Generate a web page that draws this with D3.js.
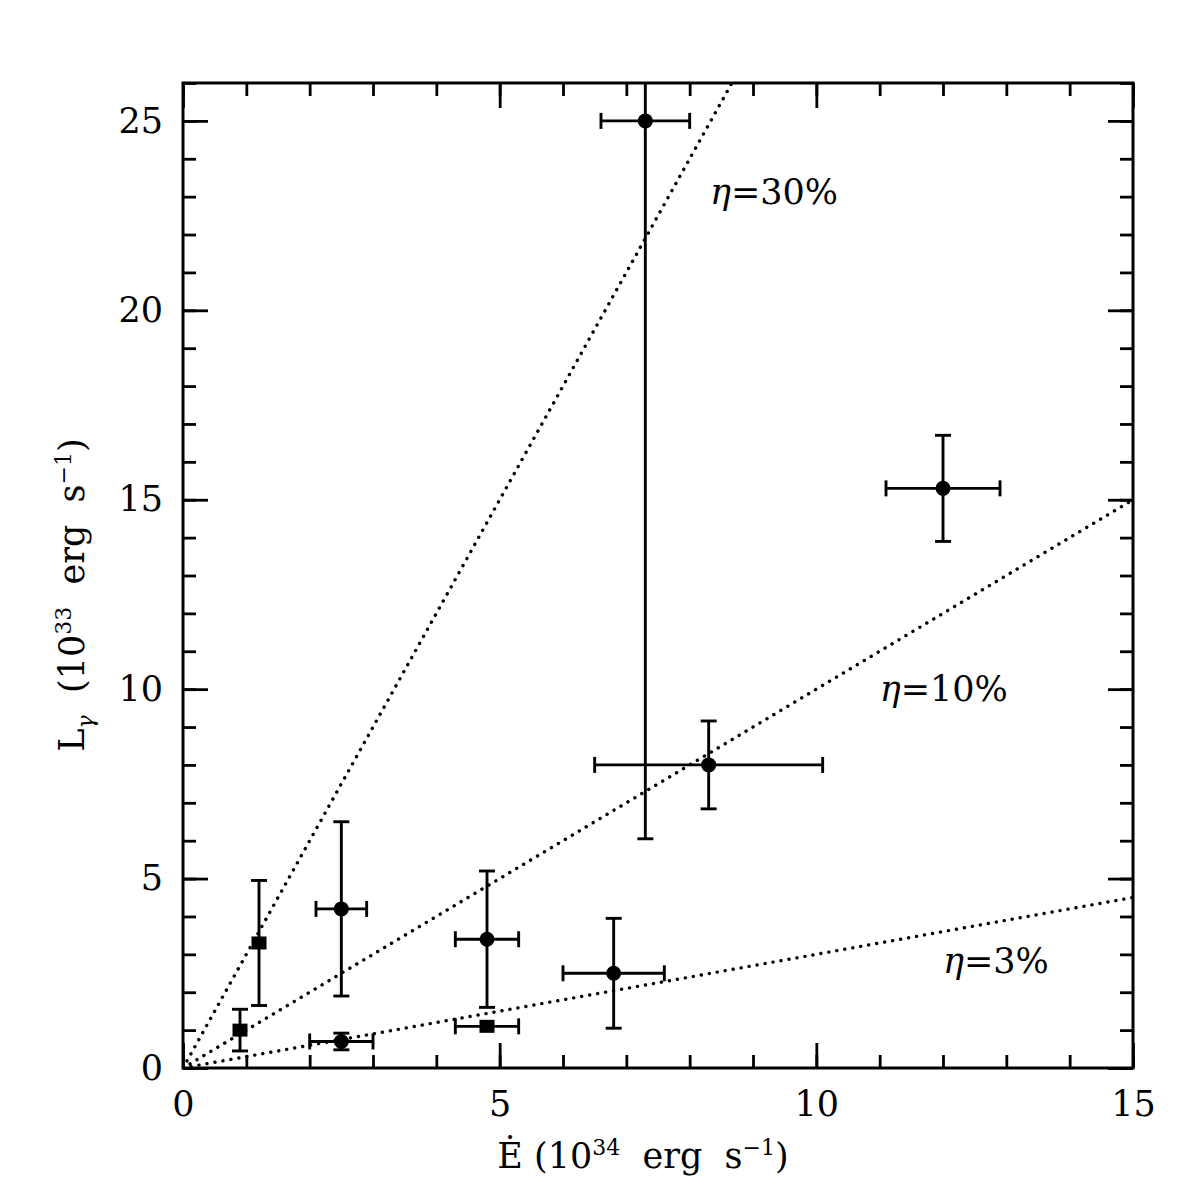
<!DOCTYPE html>
<html><head><meta charset="utf-8">
<script src="https://cdn.jsdelivr.net/npm/d3@7"></script>
<style>body{margin:0;background:#fff}svg{display:block}</style>
</head><body>
<script>
// Data: x = Edot (1e34 erg/s), y = L_gamma (1e33 erg/s)
const px   = [0.9, 1.2, 2.5, 2.5, 4.8, 4.8, 6.8, 7.3, 8.3, 12.0];
const py   = [1.0, 3.3, 0.7, 4.2, 3.4, 1.1, 2.5, 25.0, 8.0, 15.3];
const pxe  = [0, 0, 0.5, 0.4, 0.5, 0.5, 0.8, 0.7, 1.8, 0.9];
const pye  = [0.55, 1.65, 0.22, 2.3, 1.8, 0, 1.45, 18.95, 1.16, 1.4];
const pshape = ["sq","sq","c","c","c","sq","c","c","c","c"];
const effs = [0.30, 0.10, 0.03];
const effLabels = ["30%", "10%", "3%"];
const effLabelPos = [[8.32, 22.8],[11.0, 9.7],[12.0, 2.5]];
const xMajor = [0, 5, 10, 15];
const yMajor = [0, 5, 10, 15, 20, 25];

const W = 1196, H = 1196;
const m = {l:183, r:1133, t:83, b:1068};
const svg = d3.select("body").append("svg").attr("width", W).attr("height", H);
const x = d3.scaleLinear().domain([0, 15]).range([m.l, m.r]);
const y = d3.scaleLinear().domain([0, 26]).range([m.b, m.t]);
const font = "DejaVu Serif, Liberation Serif, serif";

svg.append("defs").append("clipPath").attr("id","clip")
  .append("rect").attr("x", m.l).attr("y", m.t).attr("width", m.r-m.l).attr("height", m.b-m.t);

// Axes
const xMinor = d3.range(0, 16, 1);
const yMinor = d3.range(0, 27, 1);
function axisGroup(axis, tx, ty){
  const g = svg.append("g").attr("transform", `translate(${tx},${ty})`).call(axis);
  g.select(".domain").remove();
  g.selectAll(".tick line").attr("stroke","#000").attr("stroke-width",2.8);
  return g;
}
axisGroup(d3.axisBottom(x).tickValues(xMinor).tickSize(-13).tickFormat(""), 0, m.b);
const gb = axisGroup(d3.axisBottom(x).tickValues(xMajor).tickSize(-25).tickPadding(23).tickFormat(d3.format("d")), 0, m.b);
axisGroup(d3.axisTop(x).tickValues(xMinor).tickSize(-13).tickFormat(""), 0, m.t);
axisGroup(d3.axisTop(x).tickValues(xMajor).tickSize(-25).tickFormat(""), 0, m.t);
axisGroup(d3.axisLeft(y).tickValues(yMinor).tickSize(-13).tickFormat(""), m.l, 0);
const gl = axisGroup(d3.axisLeft(y).tickValues(yMajor).tickSize(-25).tickPadding(20).tickFormat(d3.format("d")), m.l, 0);
axisGroup(d3.axisRight(y).tickValues(yMinor).tickSize(-13).tickFormat(""), m.r, 0);
axisGroup(d3.axisRight(y).tickValues(yMajor).tickSize(-25).tickFormat(""), m.r, 0);

[gb, gl].forEach(g => g.selectAll(".tick text")
  .attr("font-family", font).attr("font-size", 35).attr("fill","#000"));

svg.append("rect").attr("x", m.l).attr("y", m.t).attr("width", m.r-m.l).attr("height", m.b-m.t)
  .attr("fill","none").attr("stroke","#000").attr("stroke-width",3);

// efficiency lines
const plot = svg.append("g").attr("clip-path","url(#clip)");
effs.forEach(e => {
  plot.append("line")
    .attr("x1", x(0)).attr("y1", y(0))
    .attr("x2", x(15)).attr("y2", y(e * 10 * 15))
    .attr("stroke","#000").attr("stroke-width",3.4)
    .attr("stroke-dasharray","0.1,8").attr("stroke-linecap","round");
});

// error bars
const cap = 8;
const eb = plot.append("g").attr("stroke","#000").attr("stroke-width",2.9).attr("fill","none");
px.forEach((xv, i) => {
  const yv = py[i];
  if (pye[i] > 0) {
    eb.append("line").attr("x1", x(xv)).attr("x2", x(xv)).attr("y1", y(yv - pye[i])).attr("y2", y(yv + pye[i]));
    [yv - pye[i], yv + pye[i]].forEach(v =>
      eb.append("line").attr("x1", x(xv)-cap).attr("x2", x(xv)+cap).attr("y1", y(v)).attr("y2", y(v)));
  }
  if (pxe[i] > 0) {
    eb.append("line").attr("y1", y(yv)).attr("y2", y(yv)).attr("x1", x(xv - pxe[i])).attr("x2", x(xv + pxe[i]));
    [xv - pxe[i], xv + pxe[i]].forEach(v =>
      eb.append("line").attr("y1", y(yv)-cap).attr("y2", y(yv)+cap).attr("x1", x(v)).attr("x2", x(v)));
  }
});
// markers
px.forEach((xv, i) => {
  if (pshape[i] === "c") {
    plot.append("circle").attr("cx", x(xv)).attr("cy", y(py[i])).attr("r", 7.5).attr("fill","#000");
  } else {
    plot.append("rect").attr("x", x(xv)-7.5).attr("y", y(py[i])-6.5).attr("width", 15).attr("height", 13).attr("fill","#000");
  }
});

// efficiency labels
effLabels.forEach((lab, i) => {
  const t = svg.append("text").attr("x", x(effLabelPos[i][0])).attr("y", y(effLabelPos[i][1]))
    .attr("font-family", font).attr("font-size", 35).attr("fill","#000");
  t.append("tspan").attr("font-style","italic").text("η");
  t.append("tspan").text("=" + lab);
});

// axis titles
const xt = svg.append("text").attr("x", 643).attr("y", 1168).attr("text-anchor","middle")
  .attr("font-family", font).attr("font-size", 35).attr("fill","#000")
  .style("white-space","pre");
xt.append("tspan").text("Ė (10");
xt.append("tspan").attr("font-size", 22).attr("dy", -13).text("34");
xt.append("tspan").attr("dy", 13).text("  erg  s");
xt.append("tspan").attr("font-size", 22).attr("dy", -13).text("−1");
xt.append("tspan").attr("dy", 13).text(")");

const yt = svg.append("text").attr("transform", "translate(84,595) rotate(-90)").attr("text-anchor","middle")
  .attr("font-family", font).attr("font-size", 35).attr("fill","#000").style("white-space","pre");
yt.append("tspan").text("L");
yt.append("tspan").attr("font-size", 22).attr("dy", 9).attr("font-style","italic").text("γ");
yt.append("tspan").attr("dy", -9).text("  (10");
yt.append("tspan").attr("font-size", 22).attr("dy", -13).text("33");
yt.append("tspan").attr("dy", 13).text("  erg  s");
yt.append("tspan").attr("font-size", 22).attr("dy", -13).text("−1");
yt.append("tspan").attr("dy", 13).text(")");
</script>
</body></html>
